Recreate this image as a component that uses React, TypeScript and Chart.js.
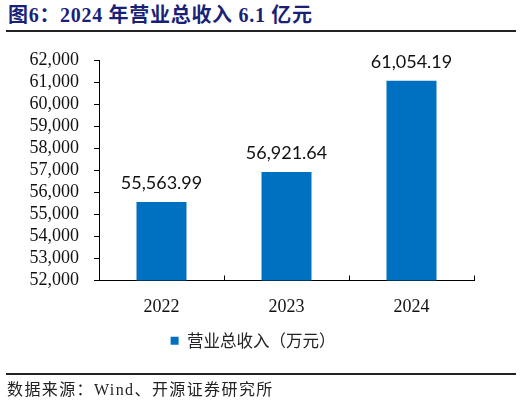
import React, { useEffect, useRef } from "react";
import { Chart, registerables } from "chart.js";

Chart.register(...registerables);

const categories = ["2022", "2023", "2024"];
const revenue = [55563.99, 56921.64, 61054.19];
const seriesName = "营业总收入（万元）";
const yMin = 52000;
const yMax = 62000;
const yStep = 1000;
const titleText = "图6：2024 年营业总收入 6.1 亿元";
const sourceText = "数据来源：Wind、开源证券研究所";

const barColor = "#0070C0";

const valueLabelPlugin = {
  id: "valueLabels",
  afterDatasetsDraw(chart: any) {
    const ctx = chart.ctx;
    const meta = chart.getDatasetMeta(0);
    ctx.save();
    ctx.font = '18px Lato, "Liberation Sans", sans-serif';
    ctx.fillStyle = "#111";
    ctx.textAlign = "center";
    ctx.textBaseline = "middle";
    meta.data.forEach((el: any, i: number) => {
      const v = chart.data.datasets[0].data[i] as number;
      const txt = v.toLocaleString("en-US", { minimumFractionDigits: 2, maximumFractionDigits: 2 });
      ctx.fillText(txt, el.x, el.y - 19);
    });
    ctx.restore();
  },
};

const innerXTicksPlugin = {
  id: "innerXTicks",
  afterDraw(chart: any) {
    const x = chart.scales.x;
    const ctx = chart.ctx;
    const n = chart.data.labels.length;
    const w = (x.right - x.left) / n;
    const bottom = chart.chartArea.bottom;
    ctx.save();
    ctx.strokeStyle = "#000";
    ctx.lineWidth = 1;
    for (let k = 1; k <= n; k++) {
      const px = Math.round(x.left + k * w) + 0.5;
      ctx.beginPath();
      ctx.moveTo(px, bottom);
      ctx.lineTo(px, bottom - 5);
      ctx.stroke();
    }
    ctx.restore();
  },
};

export default function App() {
  const ref = useRef<HTMLCanvasElement | null>(null);

  useEffect(() => {
    if (!ref.current) return;
    const chart = new Chart(ref.current, {
      type: "bar",
      data: {
        labels: categories,
        datasets: [
          {
            label: seriesName,
            data: revenue,
            backgroundColor: barColor,
            borderWidth: 0,
            categoryPercentage: 1,
            barPercentage: 0.4,
          },
        ],
      },
      options: {
        animation: false,
        responsive: false,
        devicePixelRatio: 1,
        layout: { padding: { top: 60, left: 32, right: 48, bottom: 46 } },
        plugins: {
          tooltip: { enabled: false },
          legend: {
            position: "bottom",
            labels: {
              boxWidth: 8,
              boxHeight: 8,
              padding: 10,
              color: "#222",
              font: { size: 16.5, family: '"Noto Sans CJK SC", sans-serif' },
            },
          },
        },
        scales: {
          x: {
            grid: { display: false, offset: true },
            border: { display: true, color: "#000", width: 1 },
            ticks: {
              color: "#111",
              padding: 8,
              font: { size: 18, family: '"Liberation Serif", serif' },
            },
            afterFit(scale: any) {
              scale.height = 42;
            },
          },
          y: {
            min: yMin,
            max: yMax,
            grid: { drawOnChartArea: false, drawTicks: true, tickLength: 5, color: "#000" },
            border: { display: true, color: "#000", width: 1 },
            ticks: {
              stepSize: yStep,
              autoSkip: false,
              padding: 15,
              color: "#111",
              font: { size: 18, family: '"Liberation Serif", serif' },
              callback: (v: any) => Number(v).toLocaleString("en-US"),
            },
            afterFit(scale: any) {
              scale.width = 67;
              scale._computeLabelArea = () => undefined;
            },
          },
        },
      },
      plugins: [valueLabelPlugin, innerXTicksPlugin],
    });
    return () => chart.destroy();
  }, []);

  return (
    <div style={{ position: "absolute", left: 0, top: 0, width: 522, height: 405, background: "#fff" }}>
      <div
        style={{
          position: "absolute",
          left: 8,
          top: 2,
          fontSize: 20,
          letterSpacing: 0.7,
          fontWeight: "bold",
          color: "#1a1f78",
          fontFamily: '"Liberation Serif", "Noto Sans CJK SC", serif',
          whiteSpace: "nowrap",
          lineHeight: "26px",
        }}
      >
        {titleText}
      </div>
      <div style={{ position: "absolute", left: 6, top: 30, width: 510, height: 2, background: "#222" }} />
      <canvas ref={ref} width={522} height={405} style={{ position: "absolute", left: 0, top: 0, width: 522, height: 405 }} />
      <div style={{ position: "absolute", left: 6, top: 373, width: 510, height: 2, background: "#222" }} />
      <div
        style={{
          position: "absolute",
          left: 7,
          top: 378,
          fontSize: 16,
          letterSpacing: 1.4,
          color: "#222",
          fontFamily: '"Liberation Serif", "Noto Sans CJK SC", serif',
          whiteSpace: "nowrap",
          lineHeight: "24px",
        }}
      >
        {sourceText}
      </div>
    </div>
  );
}
